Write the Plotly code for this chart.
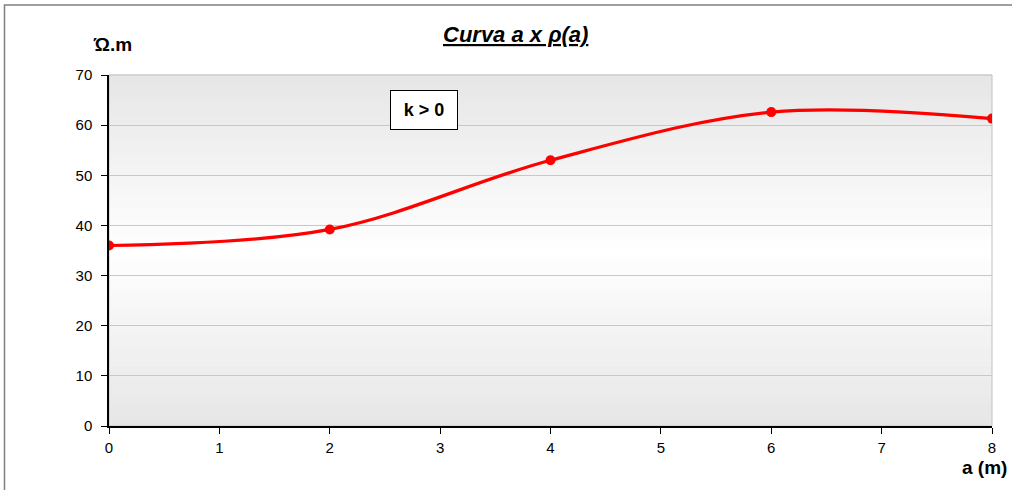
import plotly.graph_objects as go

a_m = [0, 2, 4, 6, 8]
rho = [36.0, 39.2, 53.0, 62.6, 61.3]
x_ticks = [0, 1, 2, 3, 4, 5, 6, 7, 8]
y_ticks = [0, 10, 20, 30, 40, 50, 60, 70]
title_text = "Curva a x ρ(a)"
y_label = "Ώ.m"
x_label = "a (m)"
note_text = "k > 0"

# plot area target in window px
PL, PR, PT, PB = 109, 992, 75, 426
W, H = PR - PL, PB - PT

def px(xw):
    return (xw - PL) / W

def py(yw):
    return (PB - yw) / H

fig = go.Figure()
fig.add_trace(go.Scatter(
    x=a_m, y=rho, mode="lines+markers",
    line=dict(color="#ff0000", width=3.2, shape="spline", smoothing=1.0),
    marker=dict(color="#ff0000", size=10),
    showlegend=False, hoverinfo="skip"))

shapes = []
n = 70
for i in range(n):
    t0 = i / n
    t1 = (i + 1) / n
    tm = (t0 + t1) / 2
    d = abs(tm - 0.5) / 0.5
    v = int(round(255 - (255 - 230) * d))
    shapes.append(dict(type="rect", xref="x domain", yref="y domain",
                       x0=0, x1=1, y0=t0, y1=t1 + 0.002, line=dict(width=0),
                       fillcolor=f"rgb({v},{v},{v})", layer="below"))
shapes.append(dict(type="rect", xref="x domain", yref="y domain", x0=0, x1=1, y0=0, y1=1,
                   line=dict(color="#c0c0c0", width=1), layer="below"))
shapes.append(dict(type="rect", xref="paper", yref="paper", x0=px(4.5), x1=px(1100), y0=py(600), y1=py(5),
                   line=dict(color="#808080", width=1.5), layer="below"))

fig.update_layout(
    width=1012, height=490,
    margin=dict(l=PL, r=1012 - PR, t=PT, b=490 - PB),
    paper_bgcolor="white", plot_bgcolor="rgba(0,0,0,0)",
    font=dict(family="Liberation Sans, Arial, sans-serif", size=15, color="#000000"),
    shapes=shapes,
    xaxis=dict(range=[0, 8], tickmode="array", tickvals=x_ticks, showgrid=False,
               zeroline=False, showline=True, linecolor="#000000", linewidth=1.5,
               ticks="outside", ticklen=6, tickcolor="#000000", tickfont=dict(size=15),
               ticklabelstandoff=1),
    yaxis=dict(range=[0, 70], tickmode="array", tickvals=y_ticks, showgrid=True,
               gridcolor="#c8c8c8", gridwidth=1, zeroline=False, showline=True,
               linecolor="#000000", linewidth=1.5, ticks="outside", ticklen=6,
               tickcolor="#000000", tickfont=dict(size=15), ticklabelstandoff=6),
    annotations=[
        dict(text=f"<b><i><u>{title_text}</u></i></b>", xref="paper", yref="paper",
             x=px(515), y=py(34), xanchor="center", yanchor="middle",
             showarrow=False, font=dict(size=22)),
        dict(text=f"<b>{y_label}</b>", xref="paper", yref="paper",
             x=px(112), y=py(44), xanchor="center", yanchor="middle",
             showarrow=False, font=dict(size=19)),
        dict(text=f"<b>{x_label}</b>", xref="paper", yref="paper",
             x=px(1009), y=py(467), xanchor="right", yanchor="middle",
             showarrow=False, font=dict(size=19)),
        dict(text=f"<b>{note_text}</b>", xref="x", yref="y", x=2.85, y=63,
             showarrow=False, font=dict(size=18), bordercolor="#000000", borderwidth=1,
             borderpad=9, width=48, bgcolor="white"),
    ],
)
fig.write_html("out.html", config={"displayModeBar": False},
               post_script="document.body.style.margin='0';document.body.style.padding='0';")
